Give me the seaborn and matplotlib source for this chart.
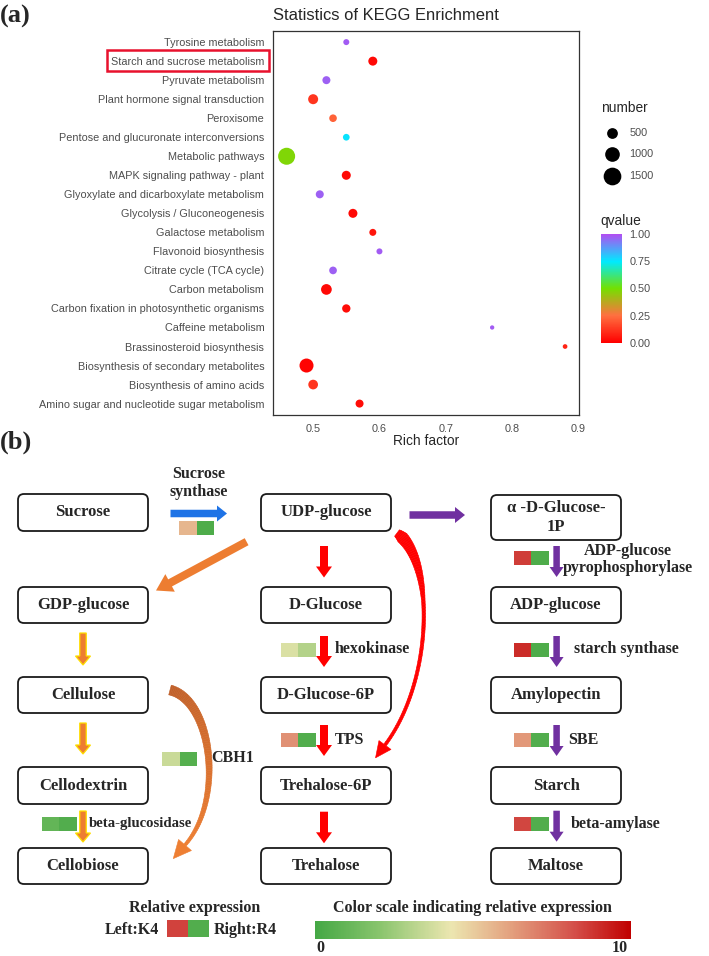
import numpy as np
import pandas as pd
import matplotlib
matplotlib.use('Agg')
import matplotlib.pyplot as plt
import seaborn as sns
from matplotlib.colors import LinearSegmentedColormap, Normalize
from matplotlib.cm import ScalarMappable
from matplotlib.patches import FancyBboxPatch, FancyArrow, Rectangle, Polygon
from matplotlib.collections import PolyCollection

# ---------------- (a) KEGG enrichment ----------------
terms = ["Tyrosine metabolism", "Starch and sucrose metabolism", "Pyruvate metabolism",
         "Plant hormone signal transduction", "Peroxisome",
         "Pentose and glucuronate interconversions", "Metabolic pathways",
         "MAPK signaling pathway - plant", "Glyoxylate and dicarboxylate metabolism",
         "Glycolysis / Gluconeogenesis", "Galactose metabolism", "Flavonoid biosynthesis",
         "Citrate cycle (TCA cycle)", "Carbon metabolism",
         "Carbon fixation in photosynthetic organisms", "Caffeine metabolism",
         "Brassinosteroid biosynthesis", "Biosynthesis of secondary metabolites",
         "Biosynthesis of amino acids", "Amino sugar and nucleotide sugar metabolism"]
rich_factor = [0.55, 0.59, 0.52, 0.50, 0.53, 0.55, 0.46, 0.55, 0.51, 0.56,
               0.59, 0.60, 0.53, 0.52, 0.55, 0.77, 0.88, 0.49, 0.50, 0.57]
qvalue = [0.98, 0.02, 0.97, 0.12, 0.22, 0.76, 0.48, 0.02, 0.97, 0.02,
          0.05, 0.98, 0.97, 0.02, 0.03, 0.98, 0.08, 0.01, 0.12, 0.03]
gene_number = [122, 385, 286, 496, 250, 175, 1600, 385, 286, 385,
               198, 122, 257, 581, 315, 20, 40, 1057, 461, 286]
size_breaks = [500, 1000, 1500]
q_breaks = [0.0, 0.25, 0.5, 0.75, 1.0]

# ---------------- (b) pathway ----------------
col_nodes = [["Sucrose", "GDP-glucose", "Cellulose", "Cellodextrin", "Cellobiose"],
             ["UDP-glucose", "D-Glucose", "D-Glucose-6P", "Trehalose-6P", "Trehalose"],
             ["\u03b1 -D-Glucose-\n1P", "ADP-glucose", "Amylopectin", "Starch", "Maltose"]]
enzymes = ["Sucrose\nsynthase", "ADP-glucose\npyrophosphorylase", "hexokinase",
           "starch synthase", "TPS", "SBE", "CBH1", "beta-glucosidase", "beta-amylase"]
expr_k4 = [5.6, 8.6, 3.9, 9.0, 6.6, 6.4, 3.5, 0.9, 8.4]
expr_r4 = [0.3, 0.3, 3.0, 0.3, 0.4, 0.4, 0.5, 0.4, 0.4]
legend_k4, legend_r4 = 8.5, 0.4

# ---------------- styles / layout ----------------
W, H = 709, 956
sns.set_style('white')
plt.rcParams['font.family'] = ['Liberation Sans', 'DejaVu Sans']
SERIF = ['Liberation Serif', 'DejaVu Serif']
GREY = '#4d4d4d'

q_cmap = LinearSegmentedColormap.from_list(
    'q', [(0, '#ff0000'), (0.25, '#ff7040'), (0.5, '#74e000'), (0.75, '#00eaff'), (1, '#b04ff2')])
expr_cmap = LinearSegmentedColormap.from_list(
    'expr', [(0, '#45a845'), (0.2, '#88c46c'), (0.43, '#ece6b0'), (0.62, '#e3a07e'),
             (0.82, '#d4504a'), (1, '#c00000')])
expr_norm = Normalize(0, 10)
S_MIN, S_MAX = 9.6, 150.0
N_MIN, N_MAX = 20, 1600


def fx(px):
    return px / W


def fy(py):
    return 1 - py / H


fig = plt.figure(figsize=(W / 100, H / 100), dpi=100)

# ---- top scatter ----
ax = fig.add_axes([fx(272.7), fy(415), (579 - 272.7) / W, (415 - 30.7) / H])
df = pd.DataFrame({'term': terms, 'rich': rich_factor, 'q': qvalue, 'n': gene_number})
sns.scatterplot(data=df, x='rich', y='term', hue='q', palette=q_cmap, hue_norm=(0, 1),
                size='n', sizes=(S_MIN, S_MAX), size_norm=(N_MIN, N_MAX),
                linewidth=0, legend=False, ax=ax, zorder=3)
ax.set_xlim(0.439, 0.901)
ax.set_ylim(len(terms) - 0.4, -0.6)
ax.set_xticks([0.5, 0.6, 0.7, 0.8, 0.9])
ax.set_xlabel('')
ax.set_ylabel('')
ax.tick_params(axis='both', length=3.5, width=0.8, color='#333333', labelcolor=GREY,
               labelsize=7.8, pad=2.5)
ax.tick_params(axis='x', pad=3)
for sp in ax.spines.values():
    sp.set_color('#333333')
    sp.set_linewidth(0.9)

# qvalue colorbar
cax = fig.add_axes([fx(600.7), fy(342.7), 21.6 / W, (342.7 - 234.3) / H])
cb = fig.colorbar(ScalarMappable(norm=Normalize(0, 1), cmap=q_cmap), cax=cax)
cb.set_ticks(q_breaks)
cb.ax.set_yticklabels(['%.2f' % v for v in q_breaks])
cb.outline.set_visible(False)
cb.ax.minorticks_off()
cb.ax.yaxis.set_ticks_position('both')
cb.ax.tick_params(direction='in', length=4, width=0.8, color='white', labelcolor=GREY,
                  labelsize=7.8, pad=5, labelleft=False, labelright=True)

# ---- overlay for texts and diagram ----
lay = fig.add_axes([0, 0, 1, 1])
lay.set_xlim(0, W)
lay.set_ylim(H, 0)
lay.axis('off')


def serif(x, y, s, size=11.5, ha='center', **kw):
    lay.text(x, y, s, fontsize=size, fontweight='bold', family=SERIF, ha=ha, va='center', **kw)


serif(0, 16, '(a)', size=19, ha='left')
serif(0, 442, '(b)', size=19, ha='left')
lay.text(272.7, 15.5, 'Statistics of KEGG Enrichment', fontsize=11.9, ha='left', va='center')
lay.text(425.9, 441, 'Rich factor', fontsize=9.9, ha='center', va='center')
lay.add_patch(Rectangle((107.3, 50), 161.4, 20.7, fill=False, ec='#e8112d', lw=1.8))

# number legend
lay.text(600.7, 108, 'number', fontsize=9.9, ha='left', va='center')
for v, yy in zip(size_breaks, [132.7, 154.3, 176.3]):
    s = S_MIN + (v - N_MIN) / (N_MAX - N_MIN) * (S_MAX - S_MIN)
    lay.scatter([611.7], [yy], s=s * 1.15, c='black', linewidths=0)
    lay.text(629.3, yy, str(v), fontsize=7.8, color=GREY, ha='left', va='center')
lay.text(600.7, 221, 'qvalue', fontsize=9.9, ha='left', va='center')

# nodes
col_x = [83, 326, 556]
row_y = [(494, 531), (587, 623), (677, 713), (767, 804), (848, 884)]
for ci, names in enumerate(col_nodes):
    for ri, name in enumerate(names):
        y0, y1 = row_y[ri]
        if ci == 2 and ri == 0:
            y0, y1 = 495, 540
        lay.add_patch(FancyBboxPatch((col_x[ci] - 65, y0), 130, y1 - y0,
                                     boxstyle='round,pad=0,rounding_size=6',
                                     fc='white', ec='#1a1a1a', lw=1.3))
        serif(col_x[ci], (y0 + y1) / 2, name, size=12, linespacing=1.2)

# straight arrows: x0, y0, x1, y1, face, edge, shaft, head_w, head_len
ORANGE, RED, PURPLE, BLUE = '#ed7d31', '#ff0000', '#7030a0', '#1e73e6'
arrows = [(170.5, 513.5, 227, 513.5, BLUE, BLUE, 7.5, 16, 10),
          (409.5, 515, 465, 515, PURPLE, PURPLE, 7.5, 16, 10),
          (246.6, 541.7, 156, 590.5, ORANGE, ORANGE, 8, 20, 16)]
for y0, y1 in [(546, 577.5), (636, 667), (725, 756), (811.7, 843.3)]:
    arrows.append((324, y0, 324, y1, RED, RED, 8, 16, 11))
for y0, y1 in [(546, 577), (636, 667), (725, 756), (810.7, 841.7)]:
    arrows.append((556.6, y0, 556.6, y1, PURPLE, PURPLE, 6.5, 14, 10))
for y0, y1 in [(633, 665), (723, 754), (811, 842)]:
    arrows.append((83, y0, 83, y1, ORANGE, '#ffe000', 6.5, 15, 9))
for x0, y0, x1, y1, fc, ec, w, hw, hl in arrows:
    lay.add_patch(FancyArrow(x0, y0, x1 - x0, y1 - y0, width=w, head_width=hw,
                             head_length=hl, length_includes_head=True,
                             fc=fc, ec=ec, lw=0.9 if ec != fc else 0))


def tapered(p, wt, wv, c0, c1, head_len, head_w, head_c):
    t = np.linspace(0, 1, 80)
    P = np.array(p, float)
    pts = (((1 - t) ** 3)[:, None] * P[0] + (3 * (1 - t) ** 2 * t)[:, None] * P[1]
           + (3 * (1 - t) * t ** 2)[:, None] * P[2] + (t ** 3)[:, None] * P[3])
    d = np.gradient(pts, axis=0)
    d /= np.linalg.norm(d, axis=1)[:, None]
    nrm = np.stack([-d[:, 1], d[:, 0]], axis=1)
    w = np.interp(t, wt, wv)
    left = pts + nrm * w[:, None] / 2
    right = pts - nrm * w[:, None] / 2
    polys = [[left[i], left[i + 1], right[i + 1], right[i]] for i in range(len(t) - 1)]
    cmap = LinearSegmentedColormap.from_list('g', [c0, c1])
    cols = cmap(t[:-1])
    lay.add_collection(PolyCollection(polys, facecolors=cols, edgecolors=cols, lw=0.4))
    tip = pts[-1] + d[-1] * head_len
    lay.add_patch(Polygon([pts[-1] + nrm[-1] * head_w / 2, tip, pts[-1] - nrm[-1] * head_w / 2],
                          closed=True, fc=head_c, ec=head_c, lw=0.4))


tapered([(397, 533), (435, 560), (434, 680), (385, 745)], [0, 0.05, 0.4, 1], [8, 12, 3.5, 3],
        RED, RED, 16, 15, RED)
tapered([(170, 690), (212, 700), (225, 800), (185, 845)], [0, 1], [10, 3],
        '#c0602a', '#ee7f33', 18, 17, '#ee7f33')

# enzyme expression blocks: rect x, rect y, label x, label y, ha, size
enzyme_pos = [(179.3, 521, 199, 483, 'center', 11.5),
              (513.6, 551, 628, 559.5, 'center', 11.5),
              (280.5, 642.5, 334.8, 649, 'left', 11.5),
              (513.6, 642.5, 573.5, 649, 'left', 11.5),
              (280.5, 732.5, 334.8, 740, 'left', 11.5),
              (513.6, 732.5, 568, 740, 'left', 11.5),
              (162, 752, 211.3, 758.5, 'left', 11.5),
              (41.6, 817.3, 89, 824, 'left', 10.6),
              (513.6, 816.7, 571, 824, 'left', 11.5)]
for name, k4, r4, (rx, ry, tx, ty, ha, fs) in zip(enzymes, expr_k4, expr_r4, enzyme_pos):
    lay.add_patch(Rectangle((rx, ry), 17.5, 14, fc=expr_cmap(expr_norm(k4)), ec='none'))
    lay.add_patch(Rectangle((rx + 17.5, ry), 17.5, 14, fc=expr_cmap(expr_norm(r4)), ec='none'))
    serif(tx, ty, name, size=fs, ha=ha, linespacing=1.1)

# bottom legend
serif(194.6, 908.5, 'Relative expression', size=11.5)
serif(159.3, 929.5, 'Left:K4', size=11.5, ha='right')
lay.add_patch(Rectangle((167.4, 920), 21, 17, fc=expr_cmap(expr_norm(legend_k4)), ec='none'))
lay.add_patch(Rectangle((188.4, 920), 21, 17, fc=expr_cmap(expr_norm(legend_r4)), ec='none'))
serif(214, 929.5, 'Right:R4', size=11.5, ha='left')
serif(472, 908.5, 'Color scale indicating relative expression', size=11.5)
cax2 = fig.add_axes([fx(315.4), fy(939.3), (631.2 - 315.4) / W, (939.3 - 921) / H])
cb2 = fig.colorbar(ScalarMappable(norm=expr_norm, cmap=expr_cmap), cax=cax2,
                   orientation='horizontal')
cb2.outline.set_visible(False)
cb2.set_ticks([])
serif(320, 948.5, '0', size=11.5)
serif(620, 948.5, '10', size=11.5)

fig.savefig('out.png', dpi=100)
